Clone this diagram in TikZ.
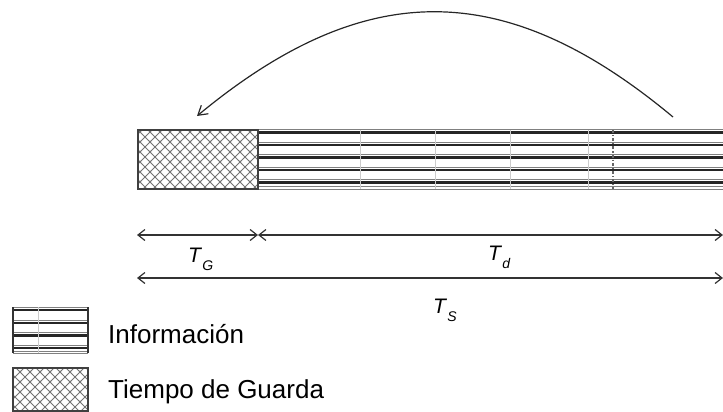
\documentclass[tikz,border=0pt]{standalone}
\usepackage{fontspec}
\setmainfont{Liberation Sans}
\usetikzlibrary{arrows.meta,patterns.meta}

\tikzdeclarepattern{
  name=guardhatch,
  type=uncolored,
  bounding box={(-1pt,-1pt) and (11pt,11pt)},
  tile size={(10pt,10pt)},
  code={
    \draw[line width=0.9pt] (-1pt,-1pt) -- (11pt,11pt) (-1pt,11pt) -- (11pt,-1pt);
  }
}

\begin{document}
\begin{tikzpicture}[
    x=1pt, y=-1pt,
    font=\fontsize{21}{24}\selectfont,
    lbl/.style={anchor=base west, inner sep=0pt},
    legend/.style={anchor=base west, inner sep=0pt, font=\fontsize{26}{30}\selectfont},
    guard/.style={draw=black!75, line width=1.4pt, pattern=guardhatch, pattern color=black!55},
    thickline/.style={line width=2.8pt, black!85},
    thinline/.style={line width=0.8pt, black!50},
    dim/.style={{Straight Barb[length=7pt,width=11pt]}-{Straight Barb[length=7pt,width=11pt]}, line width=1.2pt, black!80},
    arc/.style={-{Straight Barb[length=9pt,width=11pt]}, line width=1.2pt, black!85}
  ]
  \useasboundingbox (0,0) rectangle (723,412);

  % Symbol: guard interval and data part
  \foreach \y in {129.5,142,154.5,167,179.5,186.5,189} \draw[thinline] (258,\y) -- (730,\y);
  \foreach \y in {132.5,145,157.5,170,182.5} \draw[thickline] (258,\y) -- (730,\y);
  \foreach \x in {360,435,510,588} \draw[line width=0.5pt, black!20] (\x,130) -- (\x,189);
  \draw[line width=1.2pt, black!60, dash dot] (613,130) -- (613,189);
  \path[guard] (138,130) rectangle (258,189);

  % Cyclic prefix copy
  \coordinate (arcA) at (673,117);
  \coordinate (arcB) at (197,116);
  \draw[arc] (arcA) .. controls (505,-23) and (365,-23) .. (arcB);

  % Durations
  \coordinate (g0) at (137,235);
  \coordinate (g1) at (258,235);
  \coordinate (d1) at (723,235);
  \coordinate (s0) at (137,278);
  \coordinate (s1) at (723,278);
  \draw[dim] (g0) -- (g1);
  \draw[dim] (g1) -- (d1);
  \draw[dim] (s0) -- (s1);
  \node[lbl] (tg) at (188,262) {\textit{T}\raisebox{-8pt}{\fontsize{14}{14}\selectfont\textit{G}}};
  \node[lbl] (td) at (488,260) {\textit{T}\raisebox{-8pt}{\fontsize{14}{14}\selectfont\textit{d}}};
  \node[lbl] (ts) at (433,313) {\textit{T}\raisebox{-8pt}{\fontsize{14}{14}\selectfont\textit{S}}};

  % Legend
  \foreach \y in {307,320,332.5,345,351,353} \draw[thinline] (13,\y) -- (88,\y);
  \foreach \y in {310,323,335.5,348} \draw[thickline] (13,\y) -- (88,\y);
  \draw[line width=0.5pt, black!20] (38,307) -- (38,353);
  \draw[line width=1.6pt, black!80] (13,307) -- (13,353) (88,307) -- (88,353);
  \path[guard] (13,368) rectangle (88,411);
  \node[legend] (info) at (108,343) {Información};
  \node[legend] (tguard) at (108,398) {Tiempo de Guarda};

\end{tikzpicture}
\end{document}
